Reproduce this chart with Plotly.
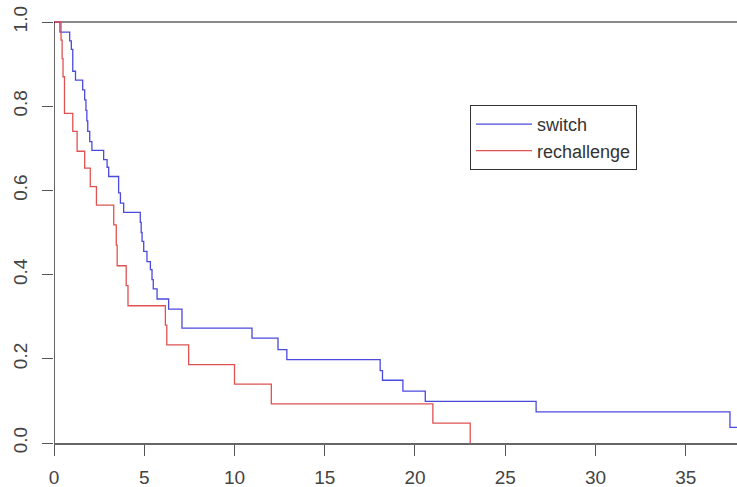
import plotly.graph_objects as go

# Kaplan-Meier style step curves
switch_t = [0, 0.33, 0.87, 0.96, 1.04, 1.19, 1.59, 1.70, 1.77, 1.82, 1.87, 1.98, 2.10, 2.75, 2.94, 3.03,
            3.58, 3.68, 3.86, 4.78, 4.83, 4.88, 4.97, 5.15, 5.34, 5.43, 5.50, 5.71, 6.35, 7.09, 10.97,
            12.41, 12.90, 18.07, 18.20, 19.33, 20.57, 26.71, 37.45, 37.84]
switch_s = [1, 0.976, 0.955, 0.935, 0.883, 0.862, 0.839, 0.815, 0.790, 0.765, 0.740, 0.716, 0.695, 0.673,
            0.655, 0.633, 0.594, 0.570, 0.548, 0.524, 0.500, 0.479, 0.455, 0.431, 0.412, 0.388, 0.366,
            0.342, 0.318, 0.273, 0.249, 0.222, 0.198, 0.172, 0.149, 0.123, 0.099, 0.074, 0.037, 0.037]

rech_t = [0, 0.39, 0.45, 0.50, 0.58, 1.04, 1.28, 1.70, 2.01, 2.35, 3.31, 3.45, 3.50, 4.00, 4.10, 6.17,
          6.25, 7.46, 10.00, 12.04, 20.99, 23.06]
rech_s = [1, 0.957, 0.913, 0.870, 0.783, 0.740, 0.693, 0.653, 0.609, 0.565, 0.518, 0.470, 0.421, 0.374,
          0.326, 0.280, 0.233, 0.186, 0.140, 0.093, 0.047, 0.0]

x_ticks = [0, 5, 10, 15, 20, 25, 30, 35]
y_ticks = [0.0, 0.2, 0.4, 0.6, 0.8, 1.0]
y_tick_text = ["0.0", "0.2", "0.4", "0.6", "0.8", "1.0"]

FONT = "Liberation Sans, Arial, sans-serif"

fig = go.Figure()
fig.add_trace(go.Scatter(x=switch_t, y=switch_s, mode="lines", name="switch",
                         line=dict(color="#4a4ade", width=1.3, shape="hv")))
fig.add_trace(go.Scatter(x=rech_t, y=rech_s, mode="lines", name="rechallenge",
                         line=dict(color="#e05252", width=1.3, shape="hv")))

# reference line at 1 and the left axis line
fig.add_shape(type="line", xref="paper", yref="y", x0=0, x1=1, y0=1, y1=1,
              line=dict(color="#8a8a8a", width=2), layer="below")
fig.add_shape(type="line", xref="x", yref="y", x0=0, x1=0, y0=0, y1=1,
              line=dict(color="#111111", width=1.3), layer="above")

# plot area at x 54..737, y 12..443 of the 737x487 figure
fig.update_layout(
    width=737, height=487,
    margin=dict(l=54, r=0, t=12, b=44, autoexpand=False),
    paper_bgcolor="white", plot_bgcolor="white",
    font=dict(family=FONT, size=19, color="#444444"),
    showlegend=True,
    legend=dict(x=(470 - 54) / 683, y=(443 - 105) / 431, xanchor="left", yanchor="top",
                bordercolor="#333333", borderwidth=1, bgcolor="white",
                font=dict(family=FONT, size=18, color="#333333"),
                itemwidth=56, tracegroupgap=0),
    xaxis=dict(range=[0, 37.84], tickvals=x_ticks, ticks="outside", ticklen=11,
               tickcolor="#555555", tickwidth=1.3, showgrid=False, zeroline=False,
               showline=True, linecolor="#666666", linewidth=2, automargin=False,
               ticklabeloverflow="allow",
               tickfont=dict(family=FONT, size=19, color="#444444"), ticklabelstandoff=5),
    yaxis=dict(range=[0, 1.0238], tickvals=y_ticks, ticktext=y_tick_text, ticks="outside",
               ticklen=11, tickcolor="#555555", tickwidth=1.3, showgrid=False, zeroline=False,
               showline=False, tickangle=-90, automargin=False, ticklabeloverflow="allow",
               tickfont=dict(family=FONT, size=19, color="#444444"), ticklabelstandoff=7),
)

# remove the browser's default 8px body margin so the figure fills the window
fig.write_html("out.html",
               config={"displayModeBar": False},
               post_script="document.body.style.margin='0';document.body.style.overflow='hidden';")
